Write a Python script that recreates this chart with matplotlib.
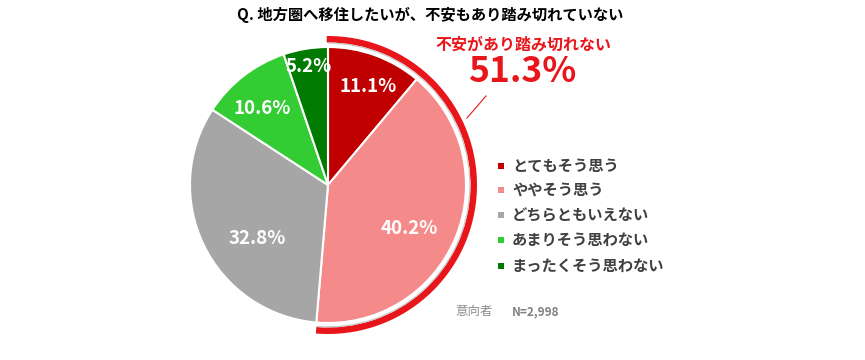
import matplotlib
matplotlib.use("Agg")
import matplotlib.pyplot as plt
from matplotlib.patches import Wedge
import numpy as np

plt.rcParams['font.family'] = ['Noto Sans CJK JP', 'DejaVu Sans']

# データ
categories = ['とてもそう思う', 'ややそう思う', 'どちらともいえない', 'あまりそう思わない', 'まったくそう思わない']
values = [11.1, 40.2, 32.8, 10.6, 5.2]
colors = ['#C00000', '#F48A8A', '#A6A6A6', '#33CC33', '#007A00']
title = 'Q. 地方圏へ移住したいが、不安もあり踏み切れていない'
highlight_label = '不安があり踏み切れない'
highlight_value = values[0] + values[1]

W, H = 865, 360
fig = plt.figure(figsize=(W / 100, H / 100), dpi=100)
ax = fig.add_axes([0, 0, 1, 1])

cx, cy, r = 328, 175, 138

wedges, _ = ax.pie(values, colors=colors, startangle=90, counterclock=False,
                   center=(cx, cy), radius=r, frame=True,
                   wedgeprops=dict(edgecolor='white', linewidth=1.5))
ax.set_xlim(0, W)
ax.set_ylim(0, H)
ax.set_aspect('equal')
ax.axis('off')

# ラベル位置の微調整（半径比, 角度ずれ）
label_fr = [0.77, 0.67, 0.64, 0.73, 0.87]
label_dang = [-2.2, -5.7, 10.8, 2.5, -0.3]
start = 90
for v, fr, da in zip(values, label_fr, label_dang):
    mid = start - v * 3.6 / 2 + da
    start -= v * 3.6
    x = cx + r * fr * np.cos(np.radians(mid))
    y = cy + r * fr * np.sin(np.radians(mid))
    ax.text(x, y, f'{v:.1f}%', color='white', fontsize=13.5, fontweight='bold',
            ha='center', va='center')

# 強調アーク
end_angle = 90 - highlight_value * 3.6
ax.add_patch(Wedge((cx, cy), 149, end_angle, 90.5, width=6.5,
                   facecolor='#E8161B', edgecolor='none'))
ax.add_patch(Wedge((cx, cy), 142.5, end_angle, 90, width=1.2,
                   facecolor='#C8C8C8', edgecolor='none'))

# 引き出し線
ax.plot([467, 486], [H - 118, H - 96], color='#E8161B', linewidth=0.8)

ax.text(523, H - 45, highlight_label, color='#E8161B', fontsize=11.5,
        fontweight='bold', ha='center', va='center')
ax.text(522, H - 71, f'{highlight_value:.1f}%', color='#E8161B', fontsize=25.5,
        fontweight='bold', ha='center', va='center')

ax.text(430, H - 15, title, color='black', fontsize=11, fontweight='bold',
        ha='center', va='center')

# 凡例
leg_y = [166, 190, 215, 240, 266]
for lab, col, yy in zip(categories, colors, leg_y):
    ax.scatter([501], [H - yy], marker='s', s=18, color=col, edgecolors='none')
    ax.text(512, H - yy, lab, color='#404040', fontsize=11, fontweight='bold',
            ha='left', va='center')

ax.text(456, H - 312, '意向者', color='#8C8C8C', fontsize=9, ha='left', va='center')
ax.text(512, H - 312, 'N=2,998', color='#7F7F7F', fontsize=8.5, fontweight='bold',
        ha='left', va='center')

fig.savefig('out.png', dpi=100)
